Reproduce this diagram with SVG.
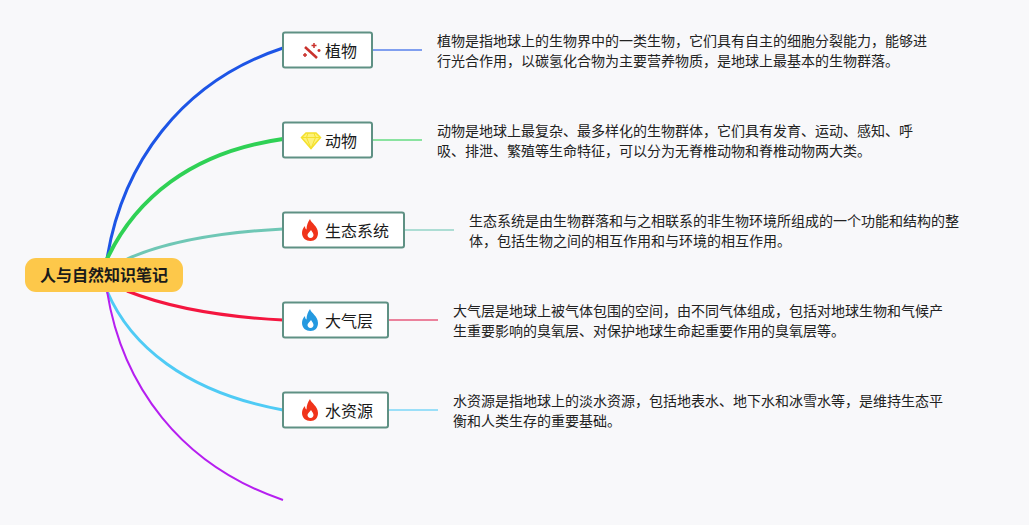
<svg xmlns="http://www.w3.org/2000/svg" width="1029" height="525" viewBox="0 0 1029 525">
<style>
text{font-family:"Noto Sans CJK SC","Liberation Sans",sans-serif;fill:#1a1a1a}
.n{fill:#fff;stroke:#5f9184;stroke-width:2}
.l{font-size:16px}
.d{font-size:14px;fill:#222}
.c{fill:none;stroke-linecap:butt}
.b{stroke-width:3}
.t{stroke-width:2;opacity:.55}
</style>
<rect width="1029" height="525" fill="#f8f8fa"/>
<g id="connectors">
<path class="c b" stroke="#1d55e6" d="M107 259C122 165 180 82 283 48"/>
<path class="c" stroke-width="4" stroke="#2fd155" d="M107 259C135 200 190 152 283 139"/>
<path class="c b" stroke="#6fc7b5" d="M127 259C170 240 225 232 283 229"/>
<path class="c b" stroke="#f4163f" d="M127 291C170 308 225 317 283 320"/>
<path class="c b" stroke="#4fcbf5" d="M107 291C130 345 185 392 283 410"/>
<path class="c" stroke-width="2" stroke="#b61ff0" d="M107 291C122 385 180 465 283 500"/>
<path class="c t" stroke="#1d55e6" d="M373 50H422"/>
<path class="c t" stroke="#2fd155" d="M373 140H422"/>
<path class="c t" stroke="#6fc7b5" d="M405 230H454"/>
<path class="c t" stroke="#e0214f" d="M389 320H438"/>
<path class="c t" stroke="#4fcbf5" d="M389 410H438"/>
</g>
<g id="root">
<rect x="25" y="258" width="158" height="34" rx="11" fill="#fdc84a"/>
<text x="104" y="281" font-size="16" font-weight="700" text-anchor="middle" fill="#111">人与自然知识笔记</text>
</g>
<g id="node-plant">
<rect class="n" x="283" y="32.500" width="89" height="35" rx="2"/>
<path d="M305 47l12 11" stroke="#c9312c" stroke-width="2.500"/>
<path d="M314 43v5M311.500 45.500h5M305 53v4M303 55h4M319 49v3M317.500 50.500h3" stroke="#c9312c" stroke-width="1.500"/>
<text class="l" x="325" y="57">植物</text>
</g>
<g id="node-animal">
<rect class="n" x="283" y="122.500" width="89" height="35" rx="2"/>
<path d="M306 133h10l4.500 4.500-9.500 11-9.500-11z" fill="#fdf27a" stroke="#f4e02c" stroke-width="1.500"/>
<path d="M301.500 137.500h19M306.500 137.500l4.500 11 4.500-11M308 133l-1.500 4.500M314 133l1.500 4.500" fill="none" stroke="#f4e02c"/>
<text class="l" x="325" y="147">动物</text>
</g>
<g id="node-ecosystem">
<rect class="n" x="283" y="212.500" width="121" height="35" rx="2"/>
<path d="M310 219c1 4 8 7 8 14 0 5-3 8-7.500 8s-8.500-3-8.500-8c0-3 1-5 3-7 0 2 .5 3 1.500 3.500 0-4 1.500-8 3.500-10.500zM310.500 238c2 0 3-1.500 3-3 0-2-1.500-3-2.500-5-1 2-3.500 3-3.500 5 0 1.500 1 3 3 3z" fill="#f0331a" fill-rule="evenodd"/>
<text class="l" x="325" y="237">生态系统</text>
</g>
<g id="node-atmosphere">
<rect class="n" x="283" y="302.500" width="105" height="35" rx="2"/>
<path d="M310 309c1 4 8 7 8 14 0 5-3 8-7.500 8s-8.500-3-8.500-8c0-3 1-5 3-7 0 2 .5 3 1.500 3.500 0-4 1.500-8 3.500-10.500zM310.500 328c2 0 3-1.500 3-3 0-2-1.500-3-2.500-5-1 2-3.500 3-3.500 5 0 1.500 1 3 3 3z" fill="#2499e0" fill-rule="evenodd"/>
<text class="l" x="325" y="327">大气层</text>
</g>
<g id="node-water">
<rect class="n" x="283" y="392.500" width="105" height="35" rx="2"/>
<path d="M310 399c1 4 8 7 8 14 0 5-3 8-7.500 8s-8.500-3-8.500-8c0-3 1-5 3-7 0 2 .5 3 1.500 3.500 0-4 1.500-8 3.500-10.500zM310.500 418c2 0 3-1.500 3-3 0-2-1.500-3-2.500-5-1 2-3.500 3-3.500 5 0 1.500 1 3 3 3z" fill="#f0331a" fill-rule="evenodd"/>
<text class="l" x="325" y="417">水资源</text>
</g>
<g id="text-plant">
<text class="d" x="437" y="46">植物是指地球上的生物界中的一类生物，它们具有自主的细胞分裂能力，能够进</text>
<text class="d" x="437" y="66">行光合作用，以碳氢化合物为主要营养物质，是地球上最基本的生物群落。</text>
</g>
<g id="text-animal">
<text class="d" x="437" y="136">动物是地球上最复杂、最多样化的生物群体，它们具有发育、运动、感知、呼</text>
<text class="d" x="437" y="156">吸、排泄、繁殖等生命特征，可以分为无脊椎动物和脊椎动物两大类。</text>
</g>
<g id="text-ecosystem">
<text class="d" x="469" y="226">生态系统是由生物群落和与之相联系的非生物环境所组成的一个功能和结构的整</text>
<text class="d" x="469" y="246">体，包括生物之间的相互作用和与环境的相互作用。</text>
</g>
<g id="text-atmosphere">
<text class="d" x="453" y="316">大气层是地球上被气体包围的空间，由不同气体组成，包括对地球生物和气候产</text>
<text class="d" x="453" y="336">生重要影响的臭氧层、对保护地球生命起重要作用的臭氧层等。</text>
</g>
<g id="text-water">
<text class="d" x="453" y="406">水资源是指地球上的淡水资源，包括地表水、地下水和冰雪水等，是维持生态平</text>
<text class="d" x="453" y="426">衡和人类生存的重要基础。</text>
</g>
</svg>
